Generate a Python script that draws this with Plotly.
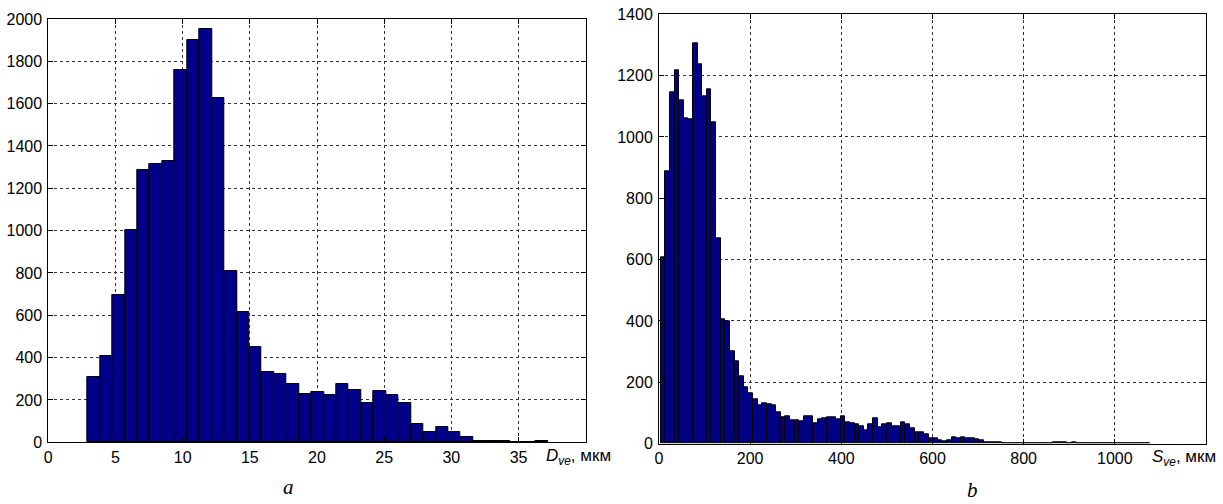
import plotly.graph_objects as go

# ---------- data ----------
# (a) D_ve histogram: counts per bin
d_counts = [307, 409, 698, 1002, 1288, 1314, 1331, 1761, 1902, 1954, 1625, 808,
            616, 452, 334, 323, 276, 228, 236, 224, 276, 246, 187, 241, 224, 187,
            85, 49, 71, 49, 25, 8, 8, 8, 0, 0, 6]
d_bin_start = 2.92
d_bin_width = 0.926

# (b) S_ve histogram: counts per bin
s_counts = [608, 887, 1147, 1216, 1118, 1061, 1058, 1307, 1238, 1134, 1154, 1048,
            669, 405, 399, 301, 269, 220, 183, 163, 143, 124, 132, 127, 126, 102,
            86, 89, 77, 77, 73, 90, 90, 65, 78, 81, 85, 85, 78, 90, 70, 67, 62,
            56, 45, 62, 81, 54, 62, 67, 57, 57, 70, 62, 49, 38, 38, 29, 16, 16,
            12, 6, 10, 20, 17, 19, 16, 16, 13, 10, 5, 5, 5, 5, 2, 2, 2,
            0, 0, 0, 0, 0, 0, 2, 0, 3, 3, 3, 0, 3,
            0, 0, 0, 0, 0, 0, 0, 0, 0, 0, 0, 0, 0, 0, 2, 0]
s_bin_start = 3.7
s_bin_width = 10.13

d_xticks = [0, 5, 10, 15, 20, 25, 30, 35]
d_yticks = list(range(0, 2001, 200))
s_xticks = [0, 200, 400, 600, 800, 1000]
s_yticks = list(range(0, 1401, 200))

# ---------- figure ----------
W, H = 1223, 504
BAR = "#000088"
FONT = "Liberation Sans, Arial, sans-serif"

d_x = [d_bin_start + (i + 0.5) * d_bin_width for i in range(len(d_counts))]
s_x = [s_bin_start + (i + 0.5) * s_bin_width for i in range(len(s_counts))]

fig = go.Figure()
fig.add_trace(go.Bar(x=d_x, y=d_counts, width=d_bin_width, xaxis="x", yaxis="y",
                     marker=dict(color=BAR, line=dict(color="black", width=1)),
                     showlegend=False, hoverinfo="x+y"))
fig.add_trace(go.Bar(x=s_x, y=s_counts, width=s_bin_width, xaxis="x2", yaxis="y2",
                     marker=dict(color=BAR, line=dict(color="black", width=1)),
                     showlegend=False, hoverinfo="x+y"))

def px_x(p):
    return p / W

def px_y(p):
    return 1 - p / H

axis_common = dict(
    showline=True, linecolor="black", linewidth=1, mirror="ticks",
    ticks="inside", ticklen=5, tickcolor="black", tickwidth=1,
    showgrid=True, gridcolor="#333333", gridwidth=1, griddash="3px,3px",
    zeroline=False, tickfont=dict(family=FONT, size=16, color="black"),
    fixedrange=True, automargin=False,
)

fig.update_layout(
    width=W, height=H, margin=dict(l=0, r=0, t=0, b=0),
    paper_bgcolor="white", plot_bgcolor="white", bargap=0,
    xaxis=dict(axis_common, domain=[px_x(48.3), px_x(585.7)], range=[0, 40],
               tickvals=d_xticks, anchor="y"),
    yaxis=dict(axis_common, domain=[px_y(442.3), px_y(19)], range=[0, 2000],
               tickvals=d_yticks, anchor="x", ticklabelstandoff=2),
    xaxis2=dict(axis_common, domain=[px_x(659), px_x(1206)], range=[0, 1200],
                tickvals=s_xticks, anchor="y2"),
    yaxis2=dict(axis_common, domain=[px_y(443.6), px_y(14.3)], range=[0, 1400],
                tickvals=s_yticks, anchor="x2", ticklabelstandoff=2),
)

fig.add_annotation(text="<i>D<sub>ve</sub></i>, мкм", xref="paper", yref="paper",
                   x=px_x(613), y=px_y(457), xanchor="right", yanchor="middle",
                   showarrow=False, font=dict(family=FONT, size=17, color="black"))
fig.add_annotation(text="<i>S<sub>ve</sub></i>, мкм", xref="paper", yref="paper",
                   x=px_x(1218), y=px_y(458), xanchor="right", yanchor="middle",
                   showarrow=False, font=dict(family=FONT, size=17, color="black"))
fig.add_annotation(text="<i>a</i>", xref="paper", yref="paper",
                   x=px_x(288), y=px_y(487), xanchor="center", yanchor="middle",
                   showarrow=False,
                   font=dict(family="Liberation Serif, Times New Roman, serif", size=21,
                             color="black"))
fig.add_annotation(text="<i>b</i>", xref="paper", yref="paper",
                   x=px_x(972), y=px_y(490), xanchor="center", yanchor="middle",
                   showarrow=False,
                   font=dict(family="Liberation Serif, Times New Roman, serif", size=21,
                             color="black"))

fig.write_html(
    "out.html",
    config={"displayModeBar": False},
    post_script="document.body.style.margin='0';document.body.style.overflow='hidden';",
)
